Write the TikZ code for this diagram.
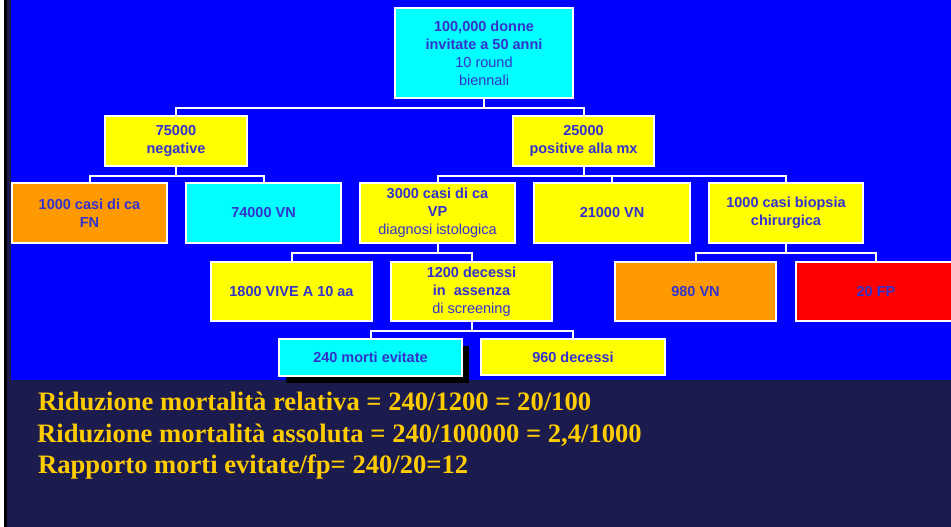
\documentclass[tikz,border=0pt]{standalone}
\usepackage{fontspec}
\setmainfont{Liberation Serif}
\setsansfont{Liberation Sans}
\usepackage{tikz}
\usetikzlibrary{calc,shadows}
\definecolor{slideblue}{RGB}{0,0,255}
\definecolor{slidenavy}{RGB}{27,27,78}
\definecolor{boxtext}{RGB}{51,51,204}
\definecolor{boxcyan}{RGB}{0,255,255}
\definecolor{boxyellow}{RGB}{255,255,0}
\definecolor{boxorange}{RGB}{255,153,0}
\definecolor{boxred}{RGB}{255,0,0}
\definecolor{sumtext}{RGB}{255,204,0}
\tikzstyle{casebox} = [draw=white,line width=1.2,inner sep=0pt,align=center,text=boxtext,font=\sffamily\bfseries\fontsize{14.5}{18}\selectfont]
\tikzstyle{branch} = [draw=white,line width=2]
\tikzstyle{sumline} = [anchor=base west,inner sep=0pt,text=sumtext,font=\rmfamily\bfseries\fontsize{26.6}{32}\selectfont]

\begin{document}
\begin{tikzpicture}[x=1pt,y=1pt,yscale=-1,xscale=1]
\useasboundingbox (0,0) rectangle (951,527);

%Shape: Rectangle
\fill [white] (0,0) rectangle (951,527);
\fill [black] (4,0) rectangle (7,527);
\fill [slidenavy] (7,0) rectangle (951,527);
\fill [slideblue] (11,0) rectangle (951,380);

% Text Node
\node [casebox,fill=boxcyan,minimum width=178,minimum height=90] (topbox) at (484,53) {100,000 donne\\invitate a 50 anni\\{\mdseries 10 round}\\{\mdseries biennali}};
% Text Node
\node [casebox,fill=boxyellow,minimum width=142,minimum height=50] (negbox) at (176,141) {75000\\negative};
\node [casebox,fill=boxyellow,minimum width=141,minimum height=50] (posbox) at (583.5,141) {25000\\positive alla mx};
% Text Node
\node [casebox,fill=boxorange,minimum width=155,minimum height=60] (fnbox) at (89.5,213) {1000 casi di ca\\FN};
\node [casebox,fill=boxcyan,minimum width=155,minimum height=60] (vnbox) at (263.5,213) {74000 VN};
\node [casebox,fill=boxyellow,minimum width=155,minimum height=60] (vpbox) at (437.5,213) {3000 casi di ca\\VP\\{\mdseries diagnosi istologica}};
\node [casebox,fill=boxyellow,minimum width=156,minimum height=60] (vnposbox) at (612,213) {21000 VN};
\node [casebox,fill=boxyellow,minimum width=154,minimum height=60] (biopbox) at (786,213) {1000 casi biopsia\\chirurgica};
% Text Node
\node [casebox,fill=boxyellow,minimum width=161,minimum height=59] (vivebox) at (291.5,291.5) {1800 VIVE A 10 aa};
\node [casebox,fill=boxyellow,minimum width=161,minimum height=59] (decbox) at (471.5,291.5) {1200 decessi\\in\ \ assenza\\{\mdseries di screening}};
\node [casebox,fill=boxorange,minimum width=161,minimum height=59] (vnbiopbox) at (695.5,291.5) {980 VN};
\node [casebox,fill=boxred,minimum width=160,minimum height=59] (fpbox) at (876,291.5) {20 FP};
% Text Node
\node [casebox,fill=boxcyan,minimum width=183,minimum height=37,drop shadow={shadow xshift=7pt,shadow yshift=-7pt,fill=black,opacity=1}] (evitbox) at (370.5,357.5) {240 morti evitate};
\node [casebox,fill=boxyellow,minimum width=184,minimum height=36] (decmbox) at (573,357) {960 decessi};

%Straight Lines
\draw [branch] (topbox.south) -- ++(0,9) -| (negbox.north);
\draw [branch] (topbox.south) -- ++(0,9) -| (posbox.north);
\draw [branch] (negbox.south) -- ++(0,9) -| (fnbox.north);
\draw [branch] (negbox.south) -- ++(0,9) -| (vnbox.north);
\draw [branch] (posbox.south) -- ++(0,9) -| (vpbox.north);
\draw [branch] (posbox.south) -- ++(0,9) -| (vnposbox.north);
\draw [branch] (posbox.south) -- ++(0,9) -| (biopbox.north);
\draw [branch] (vpbox.south) -- ++(0,9) -| (vivebox.north);
\draw [branch] (vpbox.south) -- ++(0,9) -| (decbox.north);
\draw [branch] (biopbox.south) -- ++(0,9) -| (vnbiopbox.north);
\draw [branch] (biopbox.south) -- ++(0,9) -| (fpbox.north);
\draw [branch] (decbox.south) -- ++(0,9) -| (evitbox.north);
\draw [branch] (decbox.south) -- ++(0,9) -| (decmbox.north);

% Text Node
\node [sumline] (relline) at (38,410) {Riduzione mortalità relativa = 240/1200 = 20/100};
\node [sumline] (assline) at (37,442) {Riduzione mortalità assoluta = 240/100000 = 2,4/1000};
\node [sumline] (fpline) at (38,473) {Rapporto morti evitate/fp= 240/20=12};

\end{tikzpicture}
\end{document}
